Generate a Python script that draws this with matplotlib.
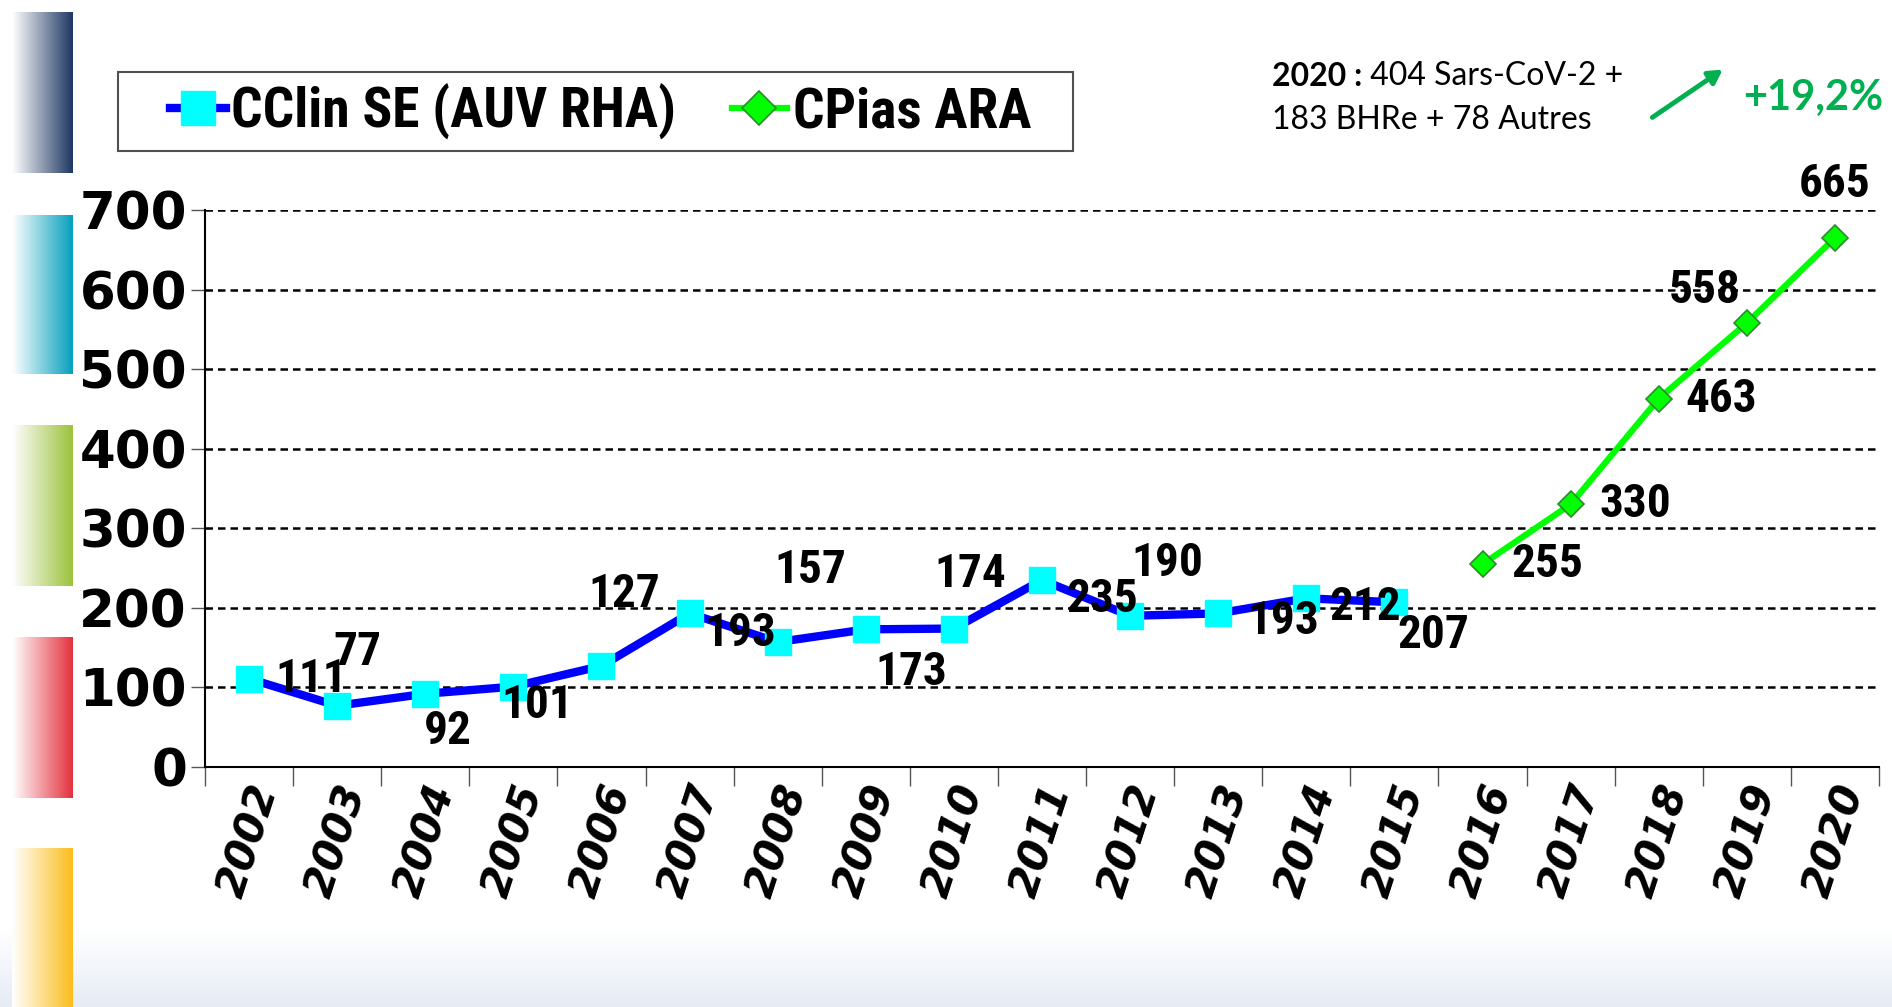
import matplotlib
matplotlib.use("Agg")
import matplotlib.pyplot as plt
import numpy as np
from matplotlib import font_manager as fm
from matplotlib.colors import LinearSegmentedColormap
from matplotlib.patches import Rectangle

# ---------------- data ----------------
years = [str(y) for y in range(2002, 2021)]
cclin_values = [111, 77, 92, 101, 127, 193, 157, 173, 174, 235, 190, 193, 212, 207]
cpias_values = [255, 330, 463, 558, 665]
y_ticks = [0, 100, 200, 300, 400, 500, 600, 700]
legend_labels = ["CClin SE (AUV RHA)", "CPias ARA"]
note_bold = "2020 :"
note_line1 = " 404 Sars-CoV-2 +"
note_line2 = "183 BHRe + 78 Autres"
growth_label = "+19,2%"

# label offsets (category units, value units) - layout only
cclin_offsets = [(0.70, 0), (0.23, 67), (0.26, -47), (0.27, -23), (0.26, 91),
                 (0.58, -24), (0.37, 91), (0.52, -53), (0.19, 68), (0.68, -24),
                 (0.42, 67), (0.74, -9), (0.67, -11), (0.44, -41)]
cpias_offsets = [(0.73, 0), (0.73, 0), (0.71, 0), (-0.48, 42), (0.0, 68)]

names = {f.name for f in fm.fontManager.ttflist}
narrow = "Liberation Sans"
for cand in ["Liberation Sans Narrow", "DejaVu Sans Condensed", "Roboto Condensed"]:
    if cand in names:
        narrow = cand
        break

W, H = 1892, 1007
fig = plt.figure(figsize=(W / 100, H / 100), dpi=100)
fig.patch.set_facecolor("white")

# background decorations
bg = fig.add_axes([0, 0, 1, 1], zorder=0)
bg.set_xlim(0, W)
bg.set_ylim(H, 0)
bg.axis("off")
grad_v = np.linspace(0, 1, 100).reshape(-1, 1)
bcm = LinearSegmentedColormap.from_list("b", ["#ffffff", "#e6ecf5"])
bg.imshow(grad_v, extent=[0, W, H, 930], cmap=bcm, aspect="auto")
bars = [("#1f3864", 12, 173), ("#05a0bd", 215, 374), ("#9cc23c", 425, 586),
        ("#e3323f", 637, 798), ("#fbbd1e", 848, 1007)]
grad_h = np.linspace(0, 1, 100).reshape(1, -1)
for col, y0, y1 in bars:
    cm = LinearSegmentedColormap.from_list("c", ["#ffffff", col])
    bg.imshow(grad_h, extent=[12, 72, y1, y0], cmap=cm, aspect="auto")
# legend frame
bg.add_patch(Rectangle((118, 72), 955, 79, facecolor="white",
                       edgecolor="#505050", linewidth=1.5, zorder=1))

# main axes
L, R, T, B = 205, 1879, 210, 767
ax = fig.add_axes([L / W, 1 - B / H, (R - L) / W, (B - T) / H], zorder=2)
ax.patch.set_alpha(0)
x_all = np.arange(len(years))
x_cclin = x_all[:len(cclin_values)]
x_cpias = x_all[len(cclin_values):]

ax.set_xlim(-0.5, len(years) - 0.5)
ax.set_ylim(0, 700)
for v in y_ticks[1:]:
    ax.axhline(v, color="black", linestyle=(0, (3, 2)), linewidth=1.8, zorder=1)

ax.plot(x_cclin, cclin_values, color="#0000ff", linewidth=6, marker="s",
        markersize=19, markerfacecolor="#00ffff", markeredgecolor="#00ffff",
        zorder=3, label=legend_labels[0])
ax.plot(x_cpias, cpias_values, color="#00ff00", linewidth=4.5, marker="D",
        markersize=13, markerfacecolor="#00ff00", markeredgecolor="#2e8b2e",
        markeredgewidth=1.2, zorder=3, label=legend_labels[1])

lab_font = dict(family=narrow, fontweight="bold", fontsize=34, color="black",
                ha="center", va="center", zorder=4)
for x, v, (dx, dy) in zip(x_cclin, cclin_values, cclin_offsets):
    ax.text(x + dx, v + dy, str(v), **lab_font)
for x, v, (dx, dy) in zip(x_cpias, cpias_values, cpias_offsets):
    ax.text(x + dx, v + dy, str(v), **lab_font)

for s in ["top", "right"]:
    ax.spines[s].set_visible(False)
ax.spines["left"].set_linewidth(1.5)
ax.spines["bottom"].set_linewidth(1.5)

ax.set_yticks(y_ticks)
ax.set_yticklabels([str(v) for v in y_ticks], fontsize=37, fontweight="heavy",
                   family="DejaVu Sans")
ax.tick_params(axis="y", length=10, width=1, color="#555555", pad=3)
ax.set_xticks(x_all)
ax.set_xticklabels(years, rotation=72, fontsize=30, fontweight="bold",
                   fontstyle="italic", family="DejaVu Sans", ha="center",
                   va="top", rotation_mode="default")
ax.tick_params(axis="x", which="major", length=0, pad=9)
ax.set_xticks(np.arange(-0.5, len(years)), minor=True)
ax.tick_params(axis="x", which="minor", length=14, width=1, color="#555555")

leg = fig.legend(loc="center left", bbox_to_anchor=(170 / W, 1 - 112 / H),
                 borderaxespad=0, ncol=2, frameon=False,
                 handlelength=1.0, handletextpad=0.1, columnspacing=1.0,
                 borderpad=0.0,
                 prop=dict(family=narrow, weight="bold", size=40))
leg.set_zorder(5)
for h in leg.legend_handles:
    h.set_markersize(h.get_markersize() * 1.3)

# annotation top right
t1 = fig.text(1272 / W, 1 - 76 / H, note_bold, family="Lato", fontweight="bold",
              fontsize=23, va="center", ha="left")
bg.annotate(note_line1, xy=(1, 0.5), xycoords=t1, va="center", ha="left",
            family="Lato", fontsize=23)
fig.text(1272 / W, 1 - 120 / H, note_line2, family="Lato", fontsize=23,
         va="center", ha="left")
bg.annotate("", xy=(1725, 68), xytext=(1650, 119),
            arrowprops=dict(arrowstyle="-|>,head_length=0.8,head_width=0.45",
                            color="#00b050", lw=3.5))
fig.text(1813 / W, 1 - 98 / H, growth_label, family="Lato", fontweight="bold",
         fontsize=30, color="#00b050", va="center", ha="center")

fig.savefig("out.png", dpi=100)
